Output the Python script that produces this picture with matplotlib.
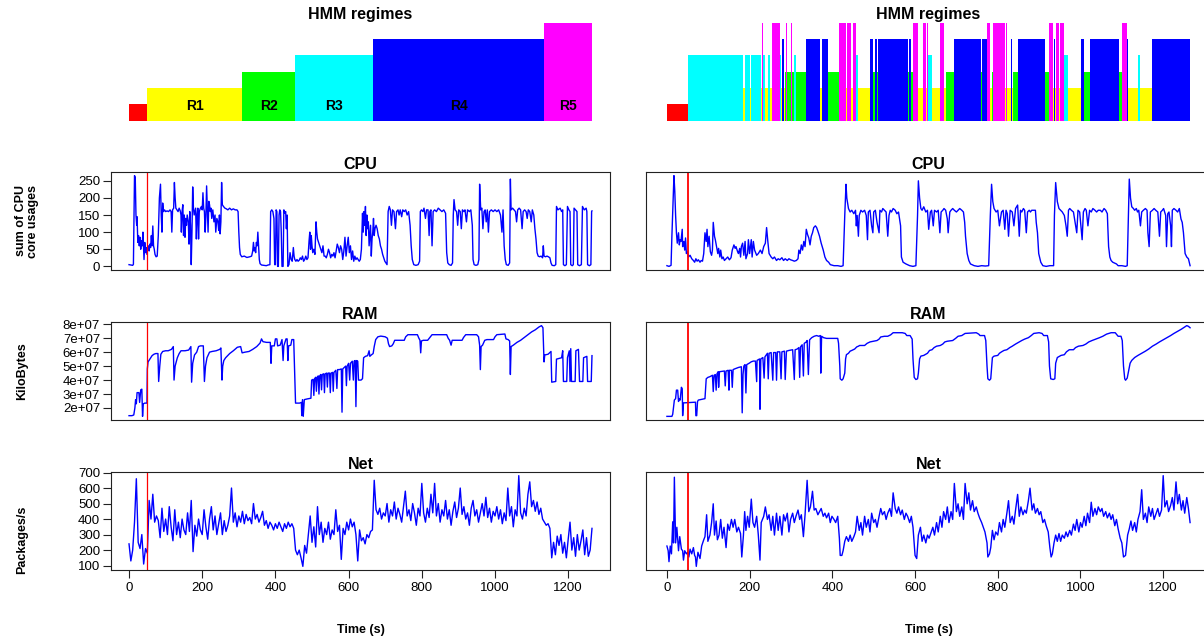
import numpy as np
import matplotlib
matplotlib.use("Agg")
import matplotlib.pyplot as plt

plt.rcParams["font.family"] = ["Liberation Sans", "DejaVu Sans"]

##############################################################################
# regimes: 0 red, 1 R1 yellow, 2 R2 green, 3 R3 cyan, 4 R4 blue, 5 R5 magenta
regime_colors = ["#FF0000", "#FFFF00", "#00FF00", "#00FFFF", "#0000FF", "#FF00FF"]
regime_names = ["", "R1", "R2", "R3", "R4", "R5"]
t_end = 1265

# left: (start time, regime)
regimes_left = [(0, 0), (49, 1), (309, 2), (454, 3), (667, 4), (1134, 5)]
# right: decoded sequence (start time, regime)
regimes_right = [
    (0, 0), (50, 3), (185, 1), (189, 3), (201, 1), (204, 3), (227, 1), (229, 5),
    (233, 3), (236, 1), (245, 3), (249, 1), (253, 5), (266, 1), (267, 5), (274, 3),
    (277, 1), (279, 4), (282, 1), (286, 2), (289, 5), (291, 2), (299, 5), (303, 2),
    (308, 3), (311, 2), (316, 1), (317, 2), (328, 3), (330, 2), (337, 4), (340, 2),
    (342, 4), (345, 2), (347, 4), (371, 1), (374, 4), (390, 2), (398, 4), (400, 2),
    (417, 5), (432, 1), (436, 5), (446, 1), (449, 5), (456, 3), (463, 1), (485, 5),
    (487, 1), (492, 4), (499, 2), (504, 4), (509, 2), (511, 4), (584, 2), (586, 4),
    (591, 2), (594, 5), (606, 1), (618, 5), (627, 1), (630, 5), (632, 3), (640, 1),
    (661, 5), (664, 1), (666, 5), (669, 4), (671, 1), (676, 2), (686, 4), (688, 2),
    (693, 4), (760, 2), (763, 4), (773, 5), (782, 1), (787, 2), (789, 5), (802, 1),
    (804, 5), (814, 3), (816, 5), (818, 1), (821, 5), (823, 1), (833, 4), (835, 1),
    (838, 2), (843, 4), (845, 2), (848, 4), (915, 2), (918, 4), (920, 2), (925, 5),
    (934, 1), (937, 4), (939, 1), (942, 5), (949, 1), (951, 5), (961, 3), (971, 1),
    (1002, 4), (1009, 2), (1017, 4), (1019, 2), (1022, 4), (1092, 2), (1101, 5),
    (1113, 4), (1116, 1), (1138, 5), (1140, 3), (1145, 1), (1174, 4),
]

##############################################################################
# CPU (sum of core usages), (time s, value)
cpu_left = np.array([
    (0,5),(5,4),(10,3),(12,6),(13,90),(15,265),(17,260),(19,150),(21,120),(22,145),(24,70),(26,90),
    (28,60),(30,85),(32,50),(34,75),(36,60),(38,100),(40,45),(41,20),(43,70),(45,40),(47,55),(49,35),
    (51,55),(53,60),(55,45),(57,65),(59,55),(61,90),(63,60),(65,118),(67,60),(69,50),(71,35),(74,28),
    (77,30),(80,90),(83,200),(86,240),(88,150),(90,100),(92,185),(94,160),(97,165),(100,160),(104,162),
    (108,160),(112,165),(115,160),(117,100),(119,165),(122,170),(124,245),(126,200),(128,170),(131,165),
    (134,160),(137,170),(140,162),(142,150),(143,100),(145,160),(147,180),(149,90),(151,150),(153,85),
    (155,140),(157,120),(159,150),(162,130),(164,65),(166,160),(168,120),(170,5),(172,100),(174,232),
    (176,170),(178,150),(180,160),(182,170),(184,80),(186,150),(188,170),(190,80),(192,160),(195,170),
    (198,175),(200,165),(202,215),(204,170),(206,160),(208,100),(210,145),(212,235),(214,170),(216,100),
    (218,190),(220,180),(222,160),(224,170),(226,140),(229,165),(232,130),(235,150),(237,100),(240,140),
    (243,130),(245,105),(247,150),(249,95),(251,130),(253,245),(255,180),(258,175),(262,170),(266,168),
    (270,165),(275,170),(280,165),(285,168),(290,165),(295,165),(298,160),(300,100),(302,55),(304,35),
    (308,28),(315,30),(322,26),(330,28),(335,30),(338,45),(340,70),(342,45),(344,55),(346,40),(348,70),
    (350,60),(352,100),(354,60),(356,20),(358,8),(362,4),(368,3),(375,2),(380,4),(385,5),(387,160),
    (390,165),(393,160),(396,140),(398,5),(400,5),(402,165),(404,160),(406,0),(408,0),(410,150),
    (412,165),(414,160),(416,100),(418,0),(421,0),(423,165),(426,155),(428,160),(430,110),(432,150),
    (434,0),(437,5),(440,40),(443,20),(446,15),(449,55),(451,30),(453,20),(456,15),(459,20),(462,15),
    (465,18),(468,25),(471,20),(474,30),(477,15),(480,20),(483,30),(486,20),(489,25),(492,75),(494,100),
    (496,50),(498,90),(500,60),(502,40),(505,50),(508,35),(511,130),(513,100),(515,80),(518,70),(521,60),
    (524,50),(527,40),(530,60),(533,30),(536,30),(539,25),(542,35),(545,50),(548,40),(551,25),(554,35),
    (557,30),(560,40),(563,25),(566,45),(569,65),(572,55),(575,40),(578,60),(581,50),(584,20),(587,45),
    (590,85),(593,30),(596,60),(599,85),(602,40),(605,60),(608,20),(611,45),(614,15),(617,30),(620,20),
    (623,25),(626,20),(629,15),(632,20),(635,50),(638,155),(640,100),(642,160),(644,120),(646,175),
    (648,90),(650,150),(652,110),(654,130),(656,60),(658,90),(660,120),(662,30),(664,80),(666,100),
    (668,140),(670,90),(672,110),(675,120),(678,110),(681,90),(684,80),(687,60),(690,50),(693,35),
    (696,25),(699,15),(702,10),(705,5),(708,160),(711,175),(714,165),(717,120),(720,165),(724,160),
    (728,110),(731,160),(735,165),(738,150),(741,165),(745,145),(748,165),(752,160),(756,165),(760,150),
    (764,160),(768,120),(771,60),(774,20),(778,5),(784,3),(790,5),(794,15),(796,160),(799,165),(803,160),
    (806,170),(810,140),(813,165),(817,165),(820,90),(822,160),(825,165),(828,60),(831,160),(835,165),
    (840,160),(845,170),(850,165),(855,160),(860,165),(865,155),(868,40),(871,10),(875,5),(880,3),
    (884,10),(886,150),(888,195),(891,165),(895,160),(898,120),(901,165),(905,160),(908,110),(911,165),
    (915,160),(918,165),(922,130),(925,165),(930,160),(934,165),(938,120),(940,20),(943,5),(948,3),
    (953,5),(956,20),(958,240),(961,165),(964,170),(967,110),(970,160),(973,165),(976,130),(979,165),
    (982,100),(985,160),(990,165),(995,160),(1000,165),(1005,160),(1010,165),(1015,150),(1019,100),
    (1022,165),(1025,60),(1028,20),(1031,5),(1036,3),(1040,10),(1042,255),(1044,165),(1048,170),
    (1052,165),(1056,160),(1059,130),(1062,165),(1066,170),(1070,165),(1074,110),(1077,160),(1081,165),
    (1085,160),(1088,140),(1091,165),(1095,160),(1099,130),(1102,165),(1106,150),(1109,110),(1112,80),
    (1115,40),(1118,30),(1122,28),(1126,30),(1130,25),(1132,60),(1134,30),(1138,28),(1142,30),(1146,28),
    (1150,25),(1153,10),(1156,3),(1162,2),(1166,5),(1168,175),(1172,165),(1178,170),(1182,160),(1185,165),
    (1187,5),(1191,2),(1195,5),(1198,175),(1202,165),(1205,160),(1207,5),(1211,2),(1214,5),(1216,170),
    (1220,165),(1224,160),(1226,5),(1231,2),(1236,5),(1239,175),(1244,165),(1249,170),(1251,160),
    (1253,5),(1258,2),(1262,5),(1264,160),(1265,162),
])
cpu_right = np.array([
    (0,5),(5,3),(10,6),(12,90),(17,265),(19,220),(21,150),(23,100),(25,70),(28,100),(30,65),(32,80),
    (34,75),(37,110),(38,60),(41,75),(43,50),(45,85),(47,40),(50,45),(52,30),(56,35),(60,25),(64,20),
    (67,15),(70,25),(73,18),(76,22),(80,15),(83,20),(86,18),(89,40),(92,100),(95,75),(97,110),(99,60),
    (102,90),(105,45),(108,35),(110,50),(112,130),(115,90),(117,80),(120,60),(123,40),(125,55),(128,30),
    (130,50),(133,25),(136,30),(139,20),(143,25),(147,30),(151,22),(155,28),(158,50),(162,65),(165,55),
    (167,60),(171,45),(173,40),(176,55),(178,30),(180,60),(183,70),(186,35),(189,75),(191,25),(195,40),
    (197,80),(200,40),(204,80),(206,30),(209,75),(212,50),(217,35),(221,40),(226,50),(230,40),(234,60),
    (238,70),(241,115),(244,75),(247,40),(252,30),(256,25),(260,30),(265,20),(269,25),(273,22),(278,28),
    (282,20),(286,25),(291,20),(295,25),(299,22),(304,20),(308,18),(313,20),(317,25),(319,50),(322,40),
    (325,65),(328,50),(331,75),(334,60),(337,110),(340,95),(343,85),(346,65),(349,90),(352,100),(355,115),
    (359,120),(362,115),(365,105),(369,90),(373,70),(378,50),(382,30),(386,20),(391,15),(395,8),(404,5),
    (413,5),(421,3),(426,5),(430,150),(433,240),(435,200),(439,170),(443,160),(447,165),(452,155),
    (456,165),(458,120),(460,150),(463,90),(465,150),(469,165),(473,160),(478,165),(482,150),(485,80),
    (487,160),(491,165),(495,120),(498,100),(500,160),(504,165),(508,130),(513,100),(515,165),(519,160),
    (522,170),(526,165),(530,160),(534,90),(537,150),(540,165),(543,160),(547,170),(552,165),(556,155),
    (560,160),(565,120),(567,30),(571,15),(578,10),(587,5),(595,3),(602,5),(606,150),(608,250),(611,200),
    (614,170),(617,165),(621,175),(626,160),(630,165),(633,110),(637,160),(640,165),(644,120),(647,165),
    (652,160),(656,165),(660,100),(663,160),(667,165),(670,170),(674,165),(678,140),(680,100),(684,160),
    (687,165),(691,170),(695,165),(700,160),(704,165),(708,170),(713,165),(717,160),(720,130),(722,90),
    (726,40),(730,20),(734,10),(743,5),(752,3),(761,5),(770,4),(778,5),(782,150),(785,240),(788,190),
    (791,170),(796,160),(800,165),(804,120),(809,160),(813,165),(817,110),(820,165),(823,155),(826,90),
    (830,165),(835,160),(839,120),(843,170),(848,180),(852,90),(855,165),(858,160),(862,170),(865,165),
    (869,100),(872,160),(876,165),(879,160),(882,165),(887,165),(891,165),(893,130),(896,100),(899,40),
    (904,15),(909,5),(917,3),(926,5),(935,5),(937,150),(940,245),(944,190),(948,170),(952,165),(956,160),
    (961,150),(965,120),(968,90),(971,165),(974,170),(978,165),(983,160),(987,130),(991,100),(994,165),
    (998,160),(1001,120),(1004,80),(1007,160),(1011,170),(1014,165),(1018,120),(1022,165),(1026,160),
    (1030,170),(1035,165),(1039,160),(1043,165),(1048,165),(1052,160),(1057,170),(1061,165),(1065,155),
    (1066,120),(1068,60),(1071,30),(1074,20),(1078,15),(1087,10),(1091,5),(1100,5),(1109,3),(1113,5),
    (1116,150),(1118,255),(1121,200),(1124,175),(1128,170),(1131,165),(1135,170),(1138,160),(1141,165),
    (1145,120),(1148,160),(1152,165),(1157,170),(1161,165),(1163,100),(1166,60),(1169,160),(1174,165),
    (1178,170),(1182,165),(1187,160),(1191,90),(1194,160),(1198,165),(1201,170),(1206,150),(1208,60),
    (1211,155),(1214,160),(1218,120),(1220,60),(1222,165),(1226,170),(1231,165),(1235,160),(1239,170),
    (1243,140),(1246,130),(1249,100),(1253,40),(1257,30),(1261,25),(1265,5),
])

# RAM in units of 1e7 KiloBytes, (time s, value)
ram_left = np.array([
    (0,1.45),(8,1.45),(13,1.5),(16,2.0),(18,2.6),(20,2.3),(22,3.1),(27,3.1),(29,2.4),(32,3.3),(35,3.35),
    (37,1.4),(39,2.3),(43,2.35),(49,2.35),(50,4.8),(52,5.3),(57,5.5),(63,5.75),(68,5.85),(73,5.9),
    (79,5.9),(81,3.9),(84,5.0),(87,5.85),(92,6.05),(100,6.1),(107,6.1),(116,6.2),(121,6.4),(123,4.0),
    (126,5.0),(132,5.6),(137,5.9),(142,6.1),(153,6.1),(163,6.15),(169,6.4),(171,3.85),(174,5.2),(179,5.8),
    (185,6.0),(190,6.4),(195,6.45),(203,6.45),(206,3.9),(209,5.0),(213,5.6),(220,6.0),(227,6.05),
    (238,6.1),(248,6.2),(251,6.3),(254,4.0),(256,5.0),(259,5.4),(264,5.6),(275,5.9),(285,6.1),(296,6.35),
    (305,6.4),(309,5.95),(317,6.0),(328,6.05),(338,6.2),(349,6.4),(358,6.65),(362,6.95),(366,6.75),
    (376,6.7),(386,6.7),(388,5.2),(390,6.45),(397,6.45),(400,6.95),(404,6.95),(406,6.45),(413,6.5),
    (418,6.9),(421,5.4),(423,6.45),(429,6.95),(432,6.95),(434,5.4),(436,6.45),(442,6.5),(445,6.9),
    (450,6.9),(452,5.0),(455,2.35),(466,2.35),(471,2.4),(472,1.45),(474,2.6),(476,1.4),(479,2.6),
    (487,2.65),(497,2.7),(499,4.0),(503,4.05),(505,2.9),(507,4.1),(510,4.2),(512,3.2),(514,4.2),(517,4.3),
    (519,3.0),(521,4.3),(524,4.4),(526,3.3),(528,4.4),(532,4.45),(534,3.1),(536,4.45),(540,4.5),(542,3.5),
    (544,4.5),(548,4.5),(550,3.1),(552,4.5),(556,4.55),(558,3.2),(560,4.55),(565,4.7),(568,3.4),(570,4.75),
    (575,4.75),(580,4.8),(582,1.7),(584,4.8),(588,4.9),(592,5.0),(594,3.6),(596,5.0),(600,5.2),(603,4.0),
    (605,5.2),(610,5.35),(613,4.0),(615,5.35),(618,5.4),(620,2.1),(622,5.4),(625,5.35),(627,4.0),
    (634,4.0),(638,4.1),(641,5.6),(646,5.7),(652,5.75),(656,6.1),(658,5.7),(662,5.8),(667,5.9),(670,6.4),
    (674,6.9),(680,7.1),(688,7.15),(700,7.1),(706,7.0),(709,6.6),(712,6.4),(718,6.45),(722,6.6),
    (726,6.85),(752,6.85),(756,7.1),(762,7.25),(788,7.25),(792,7.0),(795,6.85),(797,5.95),(799,6.8),
    (804,6.85),(816,6.85),(822,7.05),(828,7.25),(868,7.25),(872,7.0),(876,6.85),(880,6.5),(883,6.85),
    (910,6.85),(914,7.05),(920,7.25),(950,7.25),(955,7.1),(958,6.5),(960,4.75),(962,6.4),(966,6.5),
    (972,6.85),(978,6.9),(996,6.9),(1000,7.1),(1005,7.25),(1027,7.3),(1030,6.95),(1036,6.9),(1040,6.8),
    (1042,4.4),(1044,6.4),(1050,6.5),(1060,6.7),(1070,6.85),(1080,7.05),(1090,7.25),(1100,7.45),
    (1110,7.6),(1120,7.8),(1127,7.9),(1131,7.75),(1134,5.3),(1136,5.8),(1145,5.85),(1153,6.05),
    (1155,3.85),(1166,3.9),(1168,5.5),(1182,5.6),(1185,6.1),(1187,3.9),(1196,3.9),(1198,5.6),(1203,6.1),
    (1205,3.9),(1207,6.25),(1209,3.9),(1219,3.9),(1221,6.1),(1228,6.2),(1231,3.9),(1240,3.9),(1242,5.6),
    (1251,5.7),(1253,3.9),(1263,3.9),(1265,5.75),
])
ram_right = np.array([
    (0,1.45),(12,1.45),(14,1.6),(18,2.6),(21,2.7),(23,3.3),(26,3.3),(28,2.5),(30,2.7),(32,2.6),(35,3.5),
    (37,3.4),(38,1.5),(40,2.4),(69,2.45),(70,1.5),(72,1.5),(74,2.5),(76,2.6),(92,2.7),(95,4.1),(99,4.2),
    (104,4.25),(110,4.35),(112,3.2),(114,4.35),(117,4.4),(119,3.3),(121,4.45),(124,4.6),(125,3.5),
    (127,4.6),(139,4.65),(141,3.6),(143,4.65),(148,4.7),(150,3.3),(151,4.7),(156,4.7),(158,3.5),
    (160,4.75),(164,4.8),(173,4.9),(180,4.95),(182,1.7),(184,4.4),(186,5.0),(189,5.1),(191,3.1),
    (193,5.1),(199,5.2),(204,5.3),(209,5.35),(214,5.35),(217,3.9),(218,5.4),(224,5.5),(225,1.95),
    (227,5.5),(232,5.6),(235,4.15),(237,5.65),(243,5.9),(245,4.1),(247,5.9),(252,5.95),(256,4.0),
    (258,5.95),(263,5.95),(265,4.0),(267,6.0),(273,6.0),(276,4.1),(278,6.0),(284,6.05),(286,4.05),
    (289,6.05),(295,6.1),(304,6.15),(308,4.05),(310,6.15),(315,6.2),(319,6.3),(321,4.2),(323,6.35),
    (327,6.5),(330,4.3),(332,6.6),(337,6.7),(339,6.8),(342,4.4),(345,6.85),(350,7.0),(356,7.1),
    (362,7.15),(367,7.1),(371,7.15),(372,4.5),(374,7.1),(379,7.0),(386,6.95),(413,6.95),(415,6.6),
    (418,5.0),(419,4.1),(423,4.0),(426,4.1),(430,4.5),(432,5.5),(434,5.8),(439,5.9),(443,6.05),
    (447,6.1),(454,6.2),(459,6.35),(463,6.4),(466,6.45),(478,6.45),(484,6.6),(491,6.7),(500,6.75),
    (508,6.8),(513,6.9),(517,7.05),(526,7.1),(534,7.1),(541,7.2),(547,7.35),(569,7.35),(576,7.3),
    (580,7.15),(588,7.15),(593,6.9),(595,5.5),(598,4.2),(602,4.05),(606,4.1),(608,4.5),(611,5.5),
    (614,5.7),(621,5.75),(630,5.9),(635,6.1),(641,6.15),(646,6.3),(652,6.4),(661,6.45),(667,6.55),
    (672,6.7),(678,6.75),(691,6.8),(698,6.95),(704,7.1),(713,7.15),(721,7.3),(748,7.35),(754,7.25),
    (757,7.15),(768,7.15),(771,6.8),(774,5.0),(776,4.1),(780,4.0),(783,4.1),(787,5.6),(791,5.7),
    (800,5.75),(804,5.9),(809,6.0),(815,6.1),(822,6.15),(829,6.3),(835,6.4),(843,6.55),(852,6.7),
    (858,6.8),(865,6.9),(874,7.0),(881,7.15),(887,7.3),(900,7.35),(907,7.3),(911,7.15),(920,7.15),
    (923,6.7),(925,5.0),(928,4.1),(934,4.05),(938,4.1),(940,5.2),(944,5.6),(953,5.75),(961,5.8),
    (966,6.0),(973,6.15),(983,6.15),(988,6.3),(995,6.4),(1006,6.45),(1013,6.55),(1020,6.7),(1028,6.8),
    (1037,6.9),(1046,7.0),(1054,7.1),(1063,7.25),(1074,7.35),(1084,7.35),(1088,7.2),(1091,7.1),
    (1098,7.1),(1101,6.8),(1104,5.0),(1107,4.1),(1109,4.0),(1113,4.15),(1116,4.6),(1120,5.2),(1124,5.4),
    (1131,5.6),(1139,5.75),(1148,5.9),(1157,6.05),(1165,6.2),(1174,6.4),(1183,6.55),(1191,6.7),
    (1200,6.85),(1209,7.0),(1218,7.15),(1226,7.3),(1235,7.45),(1244,7.6),(1252,7.75),(1257,7.85),
    (1261,7.8),(1265,7.7),
])

# Net, packages/s. left sampled every 5 s, right as (time s, value)
net_left_step = 5
net_left = [
    240, 130, 200, 380, 660, 250, 210, 300, 110, 210,
    180, 520, 400, 560, 380, 420, 390, 280, 470, 320,
    400, 300, 480, 350, 260, 460, 300, 380, 280, 400,
    330, 300, 440, 320, 520, 190, 360, 290, 400, 330,
    300, 460, 350, 270, 400, 480, 330, 420, 300, 370,
    440, 300, 390, 320, 360, 420, 600, 380, 440, 350,
    420, 380, 450, 370, 430, 390, 410, 370, 500, 400,
    430, 380, 410, 450, 360, 390, 340, 380, 360, 330,
    370, 340, 380, 350, 320, 370, 340, 380, 350, 370,
    340, 200, 170, 200, 150, 95, 230, 180, 300, 420,
    250, 350, 220, 480, 300, 380, 250, 340, 300, 380,
    270, 330, 300, 460, 320, 360, 140, 340, 300, 380,
    330, 400, 350, 380, 300, 130, 330, 260, 280, 240,
    300, 280, 320, 330, 650, 460, 430, 470, 400, 440,
    420, 500, 380, 460, 420, 510, 400, 470, 430, 380,
    480, 580, 420, 460, 390, 500, 440, 360, 470, 420,
    630, 440, 380, 470, 410, 560, 440, 630, 420, 500,
    380, 460, 420, 520, 400, 460, 360, 450, 510, 410,
    470, 600, 430, 480, 400, 440, 360, 470, 520, 420,
    460, 380, 440, 500, 420, 540, 410, 470, 380, 450,
    420, 480, 400, 460, 370, 440, 390, 600, 420, 480,
    350, 460, 420, 680, 440, 400, 470, 420, 560, 640,
    480, 520, 450, 510, 430, 470, 400, 380, 360, 370,
    340, 150, 250, 170, 290, 230, 300, 180, 250, 150,
    270, 380, 200, 280, 160, 300, 200, 260, 330, 170,
    280, 160, 200, 340,
]
net_right = np.array([
    (0,230),(3,200),(5,130),(8,230),(11,180),(14,385),(16,250),(18,670),(21,250),(24,350),(28,200),
    (31,290),(35,210),(38,200),(40,140),(43,200),(47,180),(50,190),(53,160),(56,210),(60,180),(64,220),
    (67,170),(69,160),(71,100),(75,190),(80,150),(84,230),(89,270),(92,290),(96,430),(99,260),(104,300),
    (108,380),(112,500),(115,300),(119,390),(122,270),(126,300),(130,400),(134,280),(138,350),(143,220),
    (147,370),(151,330),(156,400),(160,350),(164,400),(169,320),(173,350),(178,310),(181,160),(185,300),
    (188,450),(191,330),(195,420),(199,350),(204,530),(208,380),(212,350),(217,420),(221,300),(225,140),
    (228,380),(234,420),(238,480),(243,400),(247,430),(252,330),(256,420),(260,300),(265,440),(269,330),
    (273,420),(278,300),(282,430),(286,390),(291,440),(295,320),(299,400),(304,440),(308,380),(312,420),
    (317,460),(321,400),(325,430),(330,290),(334,430),(339,650),(343,450),(347,480),(352,580),(356,460),
    (360,470),(365,430),(369,450),(373,470),(378,420),(382,440),(386,410),(391,440),(395,380),(399,420),
    (404,400),(408,380),(413,420),(417,280),(419,170),(423,170),(426,200),(430,260),(434,290),(439,260),
    (443,300),(447,260),(452,290),(456,320),(460,420),(465,330),(469,380),(473,300),(478,420),(482,350),
    (487,400),(491,320),(495,440),(500,380),(504,400),(508,350),(513,420),(517,470),(521,430),(526,450),
    (530,400),(534,440),(539,470),(543,420),(547,570),(552,470),(556,440),(560,480),(565,430),(569,460),
    (574,400),(578,440),(582,420),(587,380),(591,420),(595,350),(600,170),(604,150),(608,300),(613,350),
    (617,260),(621,300),(626,250),(630,300),(634,280),(639,320),(643,350),(647,300),(652,380),(656,320),
    (661,420),(665,350),(669,450),(674,400),(678,480),(682,380),(687,450),(691,400),(695,630),(700,450),
    (704,500),(708,420),(713,480),(717,400),(721,630),(726,500),(730,570),(734,460),(739,520),(743,450),
    (748,480),(752,440),(756,410),(761,380),(765,350),(769,320),(774,250),(776,160),(780,180),(783,220),
    (787,330),(791,270),(795,320),(800,300),(804,380),(809,320),(813,400),(817,350),(822,440),(826,520),
    (830,380),(835,420),(839,370),(843,460),(848,560),(852,420),(856,480),(861,430),(865,460),(869,440),
    (874,520),(878,600),(883,460),(887,500),(891,440),(896,470),(900,430),(904,450),(909,380),(913,400),
    (917,360),(922,320),(926,220),(929,160),(932,180),(936,250),(940,300),(944,260),(948,310),(952,260),
    (956,300),(961,280),(965,320),(969,290),(974,330),(978,300),(983,370),(987,330),(991,400),(996,320),
    (1000,380),(1004,350),(1009,420),(1013,360),(1017,440),(1022,380),(1026,510),(1030,420),(1035,470),
    (1039,430),(1043,480),(1048,450),(1052,470),(1056,420),(1061,450),(1065,410),(1070,440),(1074,400),
    (1078,430),(1083,360),(1087,400),(1091,340),(1096,280),(1100,250),(1104,160),(1109,170),(1111,220),
    (1114,300),(1118,340),(1122,390),(1126,330),(1131,380),(1135,320),(1139,400),(1144,450),(1148,590),
    (1152,400),(1157,440),(1161,380),(1165,480),(1170,420),(1174,470),(1178,400),(1183,440),(1187,470),
    (1191,420),(1196,460),(1200,680),(1204,480),(1209,520),(1213,450),(1218,490),(1222,540),(1226,460),
    (1231,640),(1235,500),(1239,560),(1244,460),(1248,520),(1252,440),(1257,540),(1261,470),(1265,380),
])

warmup_t = 50
cpu_ticks = [0, 50, 100, 150, 200, 250]
ram_ticks = [2, 3, 4, 5, 6, 7, 8]
ram_tick_labels = ["2e+07", "3e+07", "4e+07", "5e+07", "6e+07", "7e+07", "8e+07"]
net_ticks = [100, 200, 300, 400, 500, 600, 700]
time_ticks = [0, 200, 400, 600, 800, 1000, 1200]

##############################################################################
W, H = 1204, 641
fig = plt.figure(figsize=(W / 100, H / 100), dpi=100)

def add_px(x0, x1, y0, y1):
    return fig.add_axes([x0 / W, 1 - y1 / H, (x1 - x0) / W, (y1 - y0) / H])

cols = [(110.5, 610.5), (646, 1211)]
rows = {"top": (22.5, 120.5), "cpu": (172, 270), "ram": (322, 420), "net": (472, 570)}
xlim = (-0.04 * t_end, 1.04 * t_end)
title_kw = dict(fontsize=11.5, fontweight="bold")

# HMM regimes panels
for col, regimes in zip(cols, [regimes_left, regimes_right]):
    ax = add_px(col[0], col[1], *rows["top"])
    starts = np.array([r[0] for r in regimes])
    states = np.array([r[1] for r in regimes])
    ends = np.append(starts[1:], t_end)
    ax.bar(starts, states + 1, width=ends - starts, align="edge",
           color=[regime_colors[s] for s in states], linewidth=0)
    if regimes is regimes_left:
        for s0, s1, st in zip(starts, ends, states):
            if regime_names[st]:
                ax.text((s0 + s1) / 2, 0.9, regime_names[st], ha="center", va="center",
                        fontsize=10, fontweight="bold")
    ax.set_xlim(xlim)
    ax.set_ylim(0, 6)
    ax.axis("off")
    ax.set_title("HMM regimes", pad=2.7, **title_kw)

def panel(col, row, t, v, title, left):
    ax = add_px(col[0], col[1], *rows[row])
    ax.plot(t, v, color="#0000FF", lw=1.0)
    ax.axvline(warmup_t, color="red", lw=0.9 if left else 1.3)
    ax.set_xlim(xlim)
    ax.margins(y=0.04)
    ax.set_title(title, pad=1.6, **title_kw)
    for s in ax.spines.values():
        s.set_linewidth(0.8)
        s.set_color("#222222")
    ax.tick_params(axis="both", labelsize=9.5, length=5.5, width=0.8, color="#222222")
    ax.tick_params(axis="y", pad=2)
    ax.tick_params(axis="x", pad=3)
    if row == "net":
        ax.set_xticks(time_ticks)
    else:
        ax.set_xticks([])
    if not left:
        ax.set_yticks([])
    return ax

for i, col in enumerate(cols):
    left = i == 0
    c = cpu_left if left else cpu_right
    r = ram_left if left else ram_right
    ax = panel(col, "cpu", c[:, 0], c[:, 1], "CPU", left)
    if left:
        ax.set_yticks(cpu_ticks)
    ax = panel(col, "ram", r[:, 0], r[:, 1], "RAM", left)
    if left:
        ax.set_yticks(ram_ticks)
        ax.set_yticklabels(ram_tick_labels)
    if left:
        nt = np.arange(len(net_left)) * net_left_step
        ax = panel(col, "net", nt, net_left, "Net", left)
        ax.set_yticks(net_ticks)
    else:
        ax = panel(col, "net", net_right[:, 0], net_right[:, 1], "Net", left)
    fig.text(((col[0] + col[1]) / 2) / W, 1 - 630 / H, "Time (s)", ha="center", va="center",
             fontsize=9, fontweight="bold")

lab_kw = dict(rotation=90, ha="center", va="center", fontsize=9, fontweight="bold")
fig.text(27 / W, 1 - 221 / H, "sum of CPU\ncore usages", linespacing=1.1, **lab_kw)
fig.text(22 / W, 1 - 371 / H, "KiloBytes", **lab_kw)
fig.text(22 / W, 1 - 540 / H, "Packages/s", **lab_kw)

fig.savefig("out.png", dpi=100)
